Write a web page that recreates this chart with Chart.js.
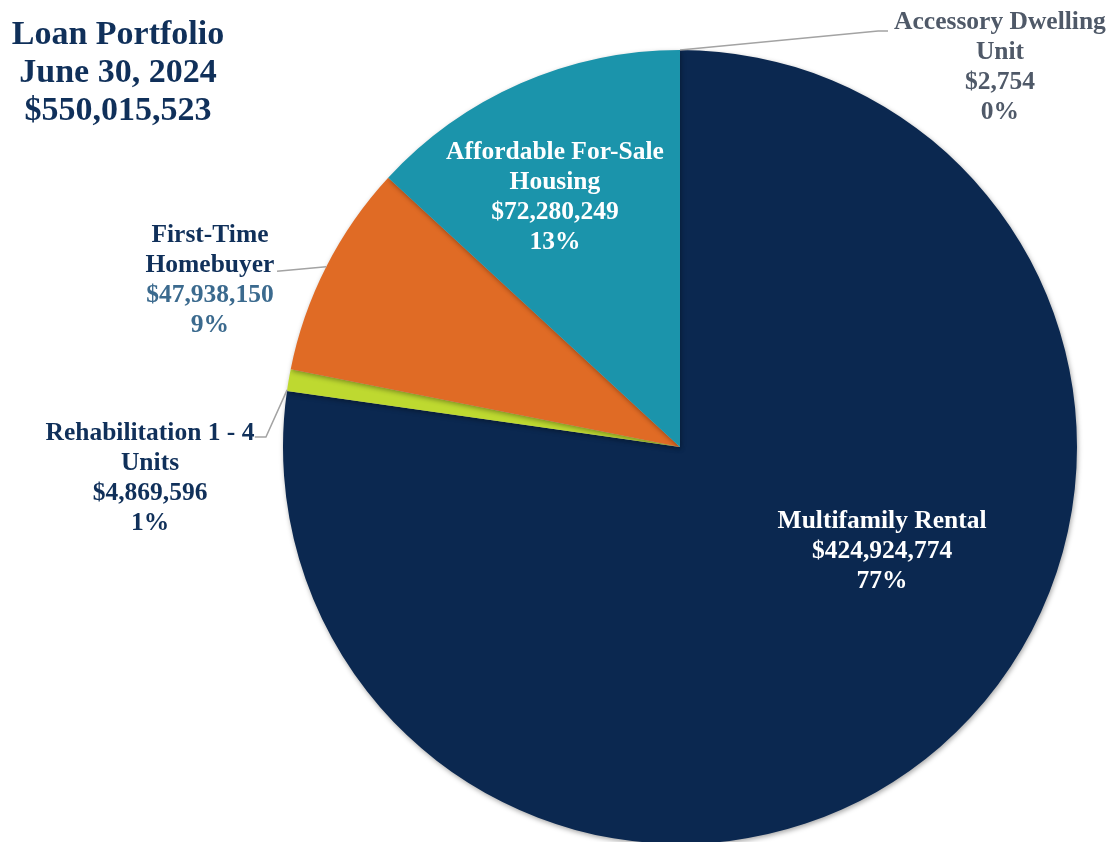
<!DOCTYPE html>
<html>
<head>
<meta charset="utf-8">
<script src="https://cdn.jsdelivr.net/npm/chart.js@4/dist/chart.umd.min.js"></script>
<style>
  html, body { margin: 0; padding: 0; background: #fff; overflow: hidden; }
  #wrap { position: relative; width: 1110px; height: 842px; overflow: hidden; }
  #title {
    position: absolute; left: 0; top: 14px; width: 236px; text-align: center;
    font-family: "Liberation Serif", "Times New Roman", serif; font-weight: bold;
    font-size: 34px; line-height: 38px; color: #10305a;
  }
  canvas { position: absolute; left: 0; top: 0; }
</style>
</head>
<body>
<div id="wrap">
  <canvas id="pie" width="1110" height="900"></canvas>
  <div id="title">Loan Portfolio<br>June 30, 2024<br>$550,015,523</div>
</div>
<script>
// data
const categories = [
    ['Multifamily Rental'],
    ['Rehabilitation 1 - 4', 'Units'],
    ['First-Time', 'Homebuyer'],
    ['Affordable For-Sale', 'Housing'],
    ['Accessory Dwelling', 'Unit']
];
const amounts = [424924774, 4869596, 47938150, 72280249, 2754];
const sliceColors = ['#0b2850', '#bed930', '#e06b25', '#1b94ab', '#1b94ab'];

// label placement, relative to pie centre in units of radius
const labelSpots = [
    { dx: 0.509, dy: 0.262, name: '#ffffff', value: '#ffffff' },
    { dx: -1.335, dy: 0.079, name: '#10305a', value: '#10305a', leader: [[-1.043, -0.025], [-1.071, -0.025]], shift: -0.004 },
    { dx: -1.184, dy: -0.419, name: '#10305a', value: '#3b6a8e', leader: [[-1.015, -0.443]] },
    { dx: -0.315, dy: -0.628, name: '#ffffff', value: '#ffffff' },
    { dx: 0.806, dy: -0.957, name: '#4f5968', value: '#4f5968', leader: [[0.499, -1.048], [0.524, -1.048]], atEnd: true }
];

const total = amounts.reduce((a, b) => a + b, 0);
const money = v => '$' + v.toLocaleString('en-US');

const sliceLabels = {
    id: 'sliceLabels',
    beforeDatasetsDraw(chart) {
        const ctx = chart.ctx;
        ctx.save();
        ctx.shadowColor = 'rgba(0,0,0,0.35)';
        ctx.shadowBlur = 5;
        ctx.shadowOffsetX = 1;
        ctx.shadowOffsetY = 2;
    },
    afterDatasetsDraw(chart) {
        const ctx = chart.ctx;
        ctx.restore();
        const arcs = chart.getDatasetMeta(0).data;
        ctx.save();
        ctx.textAlign = 'center';
        ctx.textBaseline = 'middle';
        ctx.font = 'bold 25.5px "Liberation Serif", "Times New Roman", serif';
        arcs.forEach((arc, i) => {
            const spot = labelSpots[i];
            const { x, y, outerRadius: r, startAngle, endAngle } = arc.getProps(['x', 'y', 'outerRadius', 'startAngle', 'endAngle'], true);
            if (spot.leader) {
                // start on the rim, mid slice (or at the slice end for the tiny one)
                const a = (spot.atEnd ? endAngle : (startAngle + endAngle) / 2) + (spot.shift || 0) * Math.PI * 2;
                ctx.beginPath();
                ctx.moveTo(x + Math.cos(a) * r, y + Math.sin(a) * r);
                spot.leader.forEach(p => ctx.lineTo(x + p[0] * r, y + p[1] * r));
                ctx.strokeStyle = '#a3a3a3';
                ctx.lineWidth = 1.5;
                ctx.stroke();
            }
            const lines = categories[i].concat([money(amounts[i]), Math.round(amounts[i] / total * 100) + '%']);
            const lh = 30;
            const cx = x + spot.dx * r;
            const cy = y + spot.dy * r - (lines.length - 1) * lh / 2;
            lines.forEach((t, j) => {
                ctx.fillStyle = j < categories[i].length ? spot.name : spot.value;
                ctx.fillText(t, cx, cy + j * lh);
            });
        });
        ctx.restore();
    }
};

new Chart(document.getElementById('pie'), {
    type: 'pie',
    data: {
        labels: categories,
        datasets: [{ data: amounts, backgroundColor: sliceColors, borderWidth: 0 }]
    },
    options: {
        responsive: false,
        animation: false,
        layout: { padding: { left: 283, right: 33, top: 50, bottom: 56 } },
        plugins: { legend: { display: false }, tooltip: { enabled: false } }
    },
    plugins: [sliceLabels]
});
</script>
</body>
</html>
